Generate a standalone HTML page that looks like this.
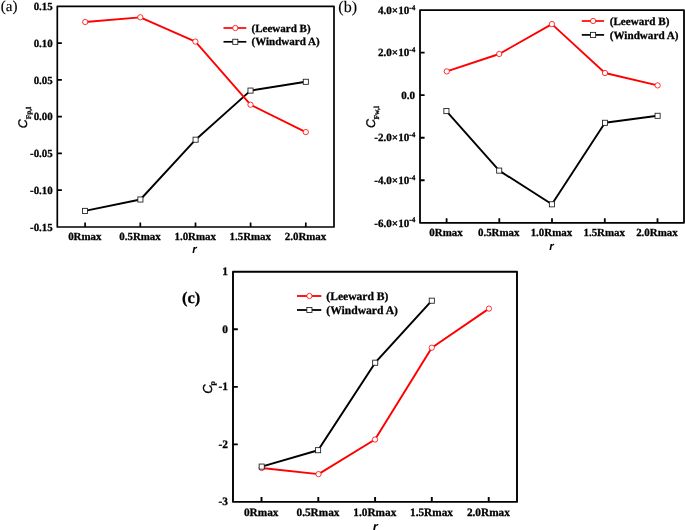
<!DOCTYPE html>
<html><head><meta charset="utf-8"><title>chart</title>
<style>
html,body{margin:0;padding:0;background:#fff;}
svg{display:block;will-change:transform;transform:translateZ(0);}
text{font-family:"Liberation Serif",serif;font-weight:bold;fill:#000;text-rendering:geometricPrecision;stroke:#000;stroke-width:0.28px;}
text.ci{font-family:"Liberation Sans",sans-serif;font-style:italic;font-weight:normal;stroke:#000;stroke-width:0.35px;}
text.ri{font-family:"Liberation Sans",sans-serif;font-style:italic;font-weight:bold;stroke-width:0;}
text.rg{font-weight:normal;stroke-width:0.15px;}
</style></head>
<body>
<svg width="685" height="530" viewBox="0 0 685 530">
<rect width="685" height="530" fill="#fff"/>
<polyline points="85,210.9 140.4,199.5 195.6,139.7 250.5,90.6 305.8,81.8" fill="none" stroke="#000000" stroke-width="1.9" stroke-linejoin="round"/>
<rect x="82.45" y="208.35" width="5.1" height="5.1" fill="#fff" stroke="#1a1a1a" stroke-width="0.85"/>
<rect x="137.85" y="196.95" width="5.1" height="5.1" fill="#fff" stroke="#1a1a1a" stroke-width="0.85"/>
<rect x="193.05" y="137.15" width="5.1" height="5.1" fill="#fff" stroke="#1a1a1a" stroke-width="0.85"/>
<rect x="247.95" y="88.05" width="5.1" height="5.1" fill="#fff" stroke="#1a1a1a" stroke-width="0.85"/>
<rect x="303.25" y="79.25" width="5.1" height="5.1" fill="#fff" stroke="#1a1a1a" stroke-width="0.85"/>
<polyline points="85.2,22 140.3,17.3 195.4,41.6 250.5,104.7 305.8,132.1" fill="none" stroke="#ff0000" stroke-width="1.85" stroke-linejoin="round"/>
<circle cx="85.2" cy="22" r="2.65" fill="#fff" stroke="#ff0000" stroke-width="0.8"/>
<circle cx="140.3" cy="17.3" r="2.65" fill="#fff" stroke="#ff0000" stroke-width="0.8"/>
<circle cx="195.4" cy="41.6" r="2.65" fill="#fff" stroke="#ff0000" stroke-width="0.8"/>
<circle cx="250.5" cy="104.7" r="2.65" fill="#fff" stroke="#ff0000" stroke-width="0.8"/>
<circle cx="305.8" cy="132.1" r="2.65" fill="#fff" stroke="#ff0000" stroke-width="0.8"/>
<rect x="57.3" y="6.3" width="276.7" height="220.7" fill="none" stroke="#000" stroke-width="1.7" stroke-linejoin="round"/>
<path d="M85.1 227V222.4M140.3 227V222.4M195.5 227V222.4M250.6 227V222.4M305.8 227V222.4M57.3 43.08H61.9M57.3 79.87H61.9M57.3 116.65H61.9M57.3 153.43H61.9M57.3 190.22H61.9" stroke="#000" stroke-width="1.7" fill="none"/>
<text x="84.8" y="240.1" font-size="10.9" text-anchor="middle" >0Rmax</text>
<text x="140" y="240.1" font-size="10.9" text-anchor="middle" >0.5Rmax</text>
<text x="195.2" y="240.1" font-size="10.9" text-anchor="middle" >1.0Rmax</text>
<text x="250.3" y="240.1" font-size="10.9" text-anchor="middle" >1.5Rmax</text>
<text x="305.5" y="240.1" font-size="10.9" text-anchor="middle" >2.0Rmax</text>
<text x="52.7" y="9.95" font-size="10.9" text-anchor="end" >0.15</text>
<text x="52.7" y="46.73" font-size="10.9" text-anchor="end" >0.10</text>
<text x="52.7" y="83.52" font-size="10.9" text-anchor="end" >0.05</text>
<text x="52.7" y="120.3" font-size="10.9" text-anchor="end" >0.00</text>
<text x="52.7" y="157.08" font-size="10.9" text-anchor="end" >-0.05</text>
<text x="52.7" y="193.87" font-size="10.9" text-anchor="end" >-0.10</text>
<text x="52.7" y="230.65" font-size="10.9" text-anchor="end" >-0.15</text>
<path d="M223.5 28H246.3" stroke="#ff0000" stroke-width="1.7"/>
<circle cx="235.3" cy="28" r="2.65" fill="#fff" stroke="#ff0000" stroke-width="0.8"/>
<path d="M223.5 41.8H246.3" stroke="#000" stroke-width="1.7"/>
<rect x="232.75" y="39.25" width="5.1" height="5.1" fill="#fff" stroke="#1a1a1a" stroke-width="0.85"/>
<text x="251.6" y="31.63" font-size="11.0" text-anchor="start" >(Leeward B)</text>
<text x="251.6" y="45.43" font-size="11.0" text-anchor="start" >(Windward A)</text>
<text x="194.5" y="253" class="ri" font-size="11.5" text-anchor="middle">r</text>
<g transform="translate(27.4 128.2) rotate(-90)"><text x="0" y="0" class="ci" font-size="12.5">C</text><text x="9" y="3.4" font-size="7.3">Fp,l</text></g>
<text x="0.8" y="11.2" class="rg" font-size="15">(a)</text>
<polyline points="446.4,111.1 499.2,170.6 551.9,204.3 605,122.8 657.6,115.8" fill="none" stroke="#000000" stroke-width="1.9" stroke-linejoin="round"/>
<rect x="443.85" y="108.55" width="5.1" height="5.1" fill="#fff" stroke="#1a1a1a" stroke-width="0.85"/>
<rect x="496.65" y="168.05" width="5.1" height="5.1" fill="#fff" stroke="#1a1a1a" stroke-width="0.85"/>
<rect x="549.35" y="201.75" width="5.1" height="5.1" fill="#fff" stroke="#1a1a1a" stroke-width="0.85"/>
<rect x="602.45" y="120.25" width="5.1" height="5.1" fill="#fff" stroke="#1a1a1a" stroke-width="0.85"/>
<rect x="655.05" y="113.25" width="5.1" height="5.1" fill="#fff" stroke="#1a1a1a" stroke-width="0.85"/>
<polyline points="446.8,71.4 499.2,54 551.9,24.1 605,73 657.6,85.4" fill="none" stroke="#ff0000" stroke-width="1.85" stroke-linejoin="round"/>
<circle cx="446.8" cy="71.4" r="2.65" fill="#fff" stroke="#ff0000" stroke-width="0.8"/>
<circle cx="499.2" cy="54" r="2.65" fill="#fff" stroke="#ff0000" stroke-width="0.8"/>
<circle cx="551.9" cy="24.1" r="2.65" fill="#fff" stroke="#ff0000" stroke-width="0.8"/>
<circle cx="605" cy="73" r="2.65" fill="#fff" stroke="#ff0000" stroke-width="0.8"/>
<circle cx="657.6" cy="85.4" r="2.65" fill="#fff" stroke="#ff0000" stroke-width="0.8"/>
<rect x="420" y="10.15" width="264" height="212.65" fill="none" stroke="#000" stroke-width="1.8" stroke-linejoin="round"/>
<path d="M446.6 222.8V218.2M499.3 222.8V218.2M552 222.8V218.2M604.8 222.8V218.2M657.5 222.8V218.2M420 52.68H424.6M420 95.21H424.6M420 137.74H424.6M420 180.27H424.6" stroke="#000" stroke-width="1.8" fill="none"/>
<text x="446" y="236" font-size="10.9" text-anchor="middle" >0Rmax</text>
<text x="498.7" y="236" font-size="10.9" text-anchor="middle" >0.5Rmax</text>
<text x="551.4" y="236" font-size="10.9" text-anchor="middle" >1.0Rmax</text>
<text x="604.2" y="236" font-size="10.9" text-anchor="middle" >1.5Rmax</text>
<text x="656.9" y="236" font-size="10.9" text-anchor="middle" >2.0Rmax</text>
<text x="415.3" y="13.85" font-size="11.1" text-anchor="end" >4.0×10<tspan font-size="7.2" dy="-4.2">-4</tspan></text>
<text x="415.3" y="56.38" font-size="11.1" text-anchor="end" >2.0×10<tspan font-size="7.2" dy="-4.2">-4</tspan></text>
<text x="415.1" y="98.91" font-size="11.1" text-anchor="end" >0.0</text>
<text x="415.3" y="141.44" font-size="11.1" text-anchor="end" >-2.0×10<tspan font-size="7.2" dy="-4.2">-4</tspan></text>
<text x="415.3" y="183.97" font-size="11.1" text-anchor="end" >-4.0×10<tspan font-size="7.2" dy="-4.2">-4</tspan></text>
<text x="415.3" y="226.5" font-size="11.1" text-anchor="end" >-6.0×10<tspan font-size="7.2" dy="-4.2">-4</tspan></text>
<path d="M581.8 21H604.1" stroke="#ff0000" stroke-width="1.7"/>
<circle cx="593.1" cy="21" r="2.65" fill="#fff" stroke="#ff0000" stroke-width="0.8"/>
<path d="M581.8 34.9H604.1" stroke="#000" stroke-width="1.7"/>
<rect x="590.55" y="32.35" width="5.1" height="5.1" fill="#fff" stroke="#1a1a1a" stroke-width="0.85"/>
<text x="609.7" y="24.68" font-size="11.15" text-anchor="start" >(Leeward B)</text>
<text x="609.7" y="38.58" font-size="11.15" text-anchor="start" >(Windward A)</text>
<text x="551.4" y="249.5" class="ri" font-size="11.5" text-anchor="middle">r</text>
<g transform="translate(374.6 127.9) rotate(-90)"><text x="0" y="0" class="ci" font-size="12.5">C</text><text x="8.4" y="4" font-size="7.5">Fw,l</text></g>
<text x="338.3" y="11.8" class="rg" font-size="16">(b)</text>
<polyline points="261.7,468 318.5,474.1 375,439.5 431.8,347.7 488.95,308.6" fill="none" stroke="#ff0000" stroke-width="1.95" stroke-linejoin="round"/>
<circle cx="261.7" cy="468" r="2.65" fill="#fff" stroke="#ff0000" stroke-width="0.8"/>
<circle cx="318.5" cy="474.1" r="2.65" fill="#fff" stroke="#ff0000" stroke-width="0.8"/>
<circle cx="375" cy="439.5" r="2.65" fill="#fff" stroke="#ff0000" stroke-width="0.8"/>
<circle cx="431.8" cy="347.7" r="2.65" fill="#fff" stroke="#ff0000" stroke-width="0.8"/>
<circle cx="488.95" cy="308.6" r="2.65" fill="#fff" stroke="#ff0000" stroke-width="0.8"/>
<polyline points="261.7,466.6 318.1,450.2 375.2,362.7 431.8,300.7" fill="none" stroke="#000000" stroke-width="2.0" stroke-linejoin="round"/>
<rect x="259.15" y="464.05" width="5.1" height="5.1" fill="#fff" stroke="#1a1a1a" stroke-width="0.85"/>
<rect x="315.55" y="447.65" width="5.1" height="5.1" fill="#fff" stroke="#1a1a1a" stroke-width="0.85"/>
<rect x="372.65" y="360.15" width="5.1" height="5.1" fill="#fff" stroke="#1a1a1a" stroke-width="0.85"/>
<rect x="429.25" y="298.15" width="5.1" height="5.1" fill="#fff" stroke="#1a1a1a" stroke-width="0.85"/>
<rect x="233" y="271.8" width="284" height="230.1" fill="none" stroke="#000" stroke-width="1.9" stroke-linejoin="round"/>
<path d="M261.5 501.9V497.1M318.3 501.9V497.1M375.1 501.9V497.1M431.8 501.9V497.1M488.7 501.9V497.1M233 329.32H237.8M233 386.85H237.8M233 444.38H237.8" stroke="#000" stroke-width="1.9" fill="none"/>
<text x="261.2" y="515.7" font-size="11.3" text-anchor="middle" >0Rmax</text>
<text x="318" y="515.7" font-size="11.3" text-anchor="middle" >0.5Rmax</text>
<text x="374.8" y="515.7" font-size="11.3" text-anchor="middle" >1.0Rmax</text>
<text x="431.5" y="515.7" font-size="11.3" text-anchor="middle" >1.5Rmax</text>
<text x="488.4" y="515.7" font-size="11.3" text-anchor="middle" >2.0Rmax</text>
<text x="228" y="275.1" font-size="11.4" text-anchor="end" >1</text>
<text x="228" y="332.62" font-size="11.4" text-anchor="end" >0</text>
<text x="228" y="390.15" font-size="11.4" text-anchor="end" >-1</text>
<text x="228" y="447.68" font-size="11.4" text-anchor="end" >-2</text>
<text x="228" y="505.2" font-size="11.4" text-anchor="end" >-3</text>
<path d="M297 296H321.3" stroke="#ff0000" stroke-width="1.8"/>
<circle cx="309.4" cy="296" r="2.65" fill="#fff" stroke="#ff0000" stroke-width="0.8"/>
<path d="M297 310H321.3" stroke="#000" stroke-width="1.8"/>
<rect x="306.85" y="307.45" width="5.1" height="5.1" fill="#fff" stroke="#1a1a1a" stroke-width="0.85"/>
<text x="326.3" y="299.83" font-size="11.6" text-anchor="start" >(Leeward B)</text>
<text x="326.3" y="313.83" font-size="11.6" text-anchor="start" >(Windward A)</text>
<text x="375.4" y="530.6" class="ri" font-size="13" text-anchor="middle">r</text>
<g transform="translate(212.2 393.8) rotate(-90)"><text x="0" y="0" class="ci" font-size="13">C</text><text x="8.3" y="3" font-size="7.8">p</text></g>
<text x="182.0" y="303.4" font-size="16.4">(c)</text>
</svg>
</body></html>
